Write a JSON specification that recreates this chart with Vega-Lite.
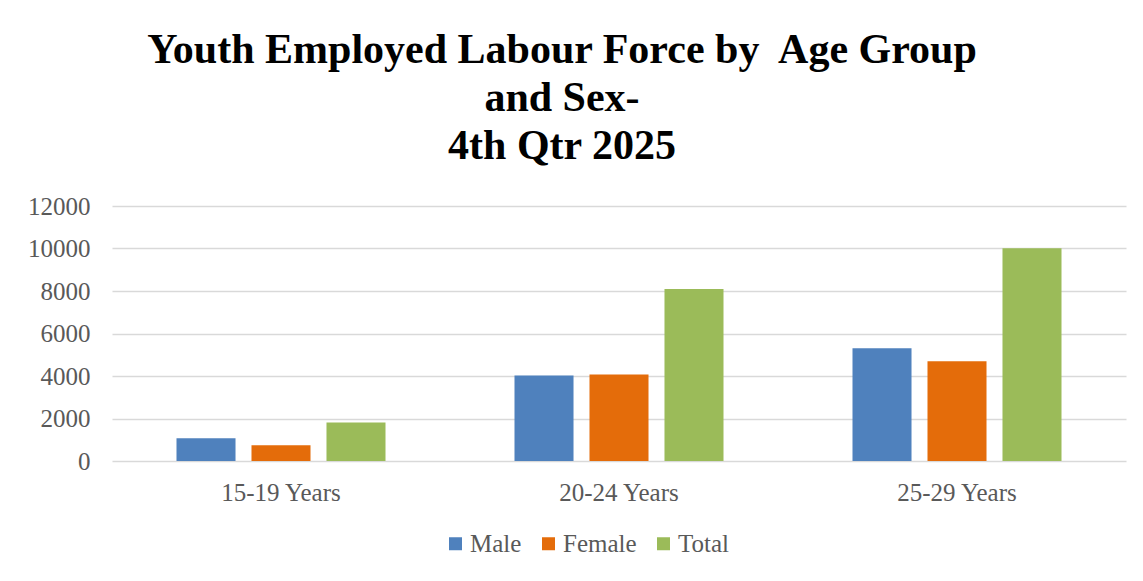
{
  "$schema": "https://vega.github.io/schema/vega-lite/v6.json",
  "autosize": "none",
  "width": 1014,
  "height": 255,
  "padding": {"left": 112, "top": 206, "right": 17, "bottom": 120},
  "background": "white",
  "title": {
    "text": ["Youth Employed Labour Force by\u00a0 Age Group", "and Sex-", "4th Qtr 2025"],
    "font": "Liberation Serif",
    "fontSize": 42,
    "fontWeight": "bold",
    "color": "#000000",
    "anchor": "middle",
    "frame": "group",
    "dx": -57,
    "offset": 26,
    "lineHeight": 48
  },
  "data": {
    "values": [
      {"age": "15-19 Years", "series": "Male", "value": 1070},
      {"age": "15-19 Years", "series": "Female", "value": 740},
      {"age": "15-19 Years", "series": "Total", "value": 1810},
      {"age": "20-24 Years", "series": "Male", "value": 4020},
      {"age": "20-24 Years", "series": "Female", "value": 4070},
      {"age": "20-24 Years", "series": "Total", "value": 8090},
      {"age": "25-29 Years", "series": "Male", "value": 5310},
      {"age": "25-29 Years", "series": "Female", "value": 4690},
      {"age": "25-29 Years", "series": "Total", "value": 10010}
    ]
  },
  "mark": {"type": "bar"},
  "encoding": {
    "x": {
      "field": "age",
      "type": "nominal",
      "sort": null,
      "scale": {"paddingInner": 0, "paddingOuter": 0},
      "axis": {
        "title": null,
        "labelAngle": 0,
        "domain": false,
        "ticks": false,
        "labelFont": "Liberation Serif",
        "labelFontSize": 25,
        "labelColor": "#595959",
        "labelPadding": 19
      }
    },
    "xOffset": {
      "field": "series",
      "type": "nominal",
      "sort": ["Male", "Female", "Total"],
      "scale": {"paddingInner": 0.213, "paddingOuter": 0.86}
    },
    "y": {
      "field": "value",
      "type": "quantitative",
      "scale": {"domain": [0, 12000], "nice": false},
      "axis": {
        "title": null,
        "values": [0, 2000, 4000, 6000, 8000, 10000, 12000],
        "format": "d",
        "domain": false,
        "ticks": false,
        "labelFont": "Liberation Serif",
        "labelFontSize": 25,
        "labelColor": "#595959",
        "labelPadding": 22,
        "gridColor": "#d9d9d9",
        "gridWidth": 1.5
      }
    },
    "color": {
      "field": "series",
      "type": "nominal",
      "sort": ["Male", "Female", "Total"],
      "scale": {"domain": ["Male", "Female", "Total"], "range": ["#4F81BD", "#E46C0A", "#9BBB59"]},
      "legend": {
        "title": null,
        "orient": "none",
        "direction": "horizontal",
        "legendX": 331,
        "legendY": 325,
        "symbolType": "square",
        "symbolSize": 169,
        "symbolStrokeWidth": 0,
        "labelFont": "Liberation Serif",
        "labelFontSize": 25,
        "labelColor": "#595959",
        "columnPadding": 14,
        "labelOffset": 2
      }
    }
  },
  "config": {
    "view": {"stroke": null}
  }
}
